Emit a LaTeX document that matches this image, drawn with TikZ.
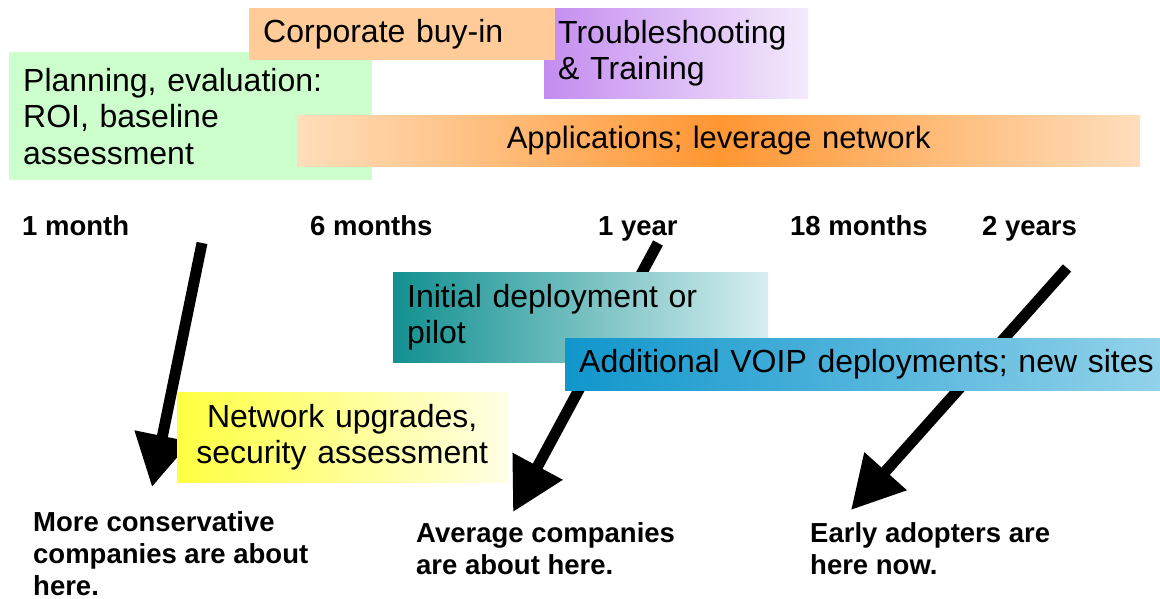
\documentclass[tikz,border=0pt]{standalone}
\usepackage{fontspec}
\setmainfont{Liberation Sans}
\usetikzlibrary{arrows.meta}

\definecolor{planfill}{HTML}{CCFFCC}
\definecolor{buyfill}{HTML}{FFCC99}
\definecolor{troubleL}{RGB}{196,140,240}
\definecolor{troubleR}{RGB}{244,234,252}
\definecolor{appEdge}{RGB}{255,222,188}
\definecolor{appMid}{RGB}{255,150,50}
\definecolor{pilotL}{RGB}{18,144,144}
\definecolor{pilotR}{RGB}{214,238,240}
\definecolor{voipL}{RGB}{16,150,204}
\definecolor{voipR}{RGB}{146,210,234}
\definecolor{netL}{RGB}{255,255,64}
\definecolor{netR}{RGB}{255,255,230}

\tikzset{
  phase/.style={anchor=north west, inner xsep=14pt, inner ysep=0pt,
    font=\fontsize{32}{36.5}\selectfont, align=left},
  tick/.style={anchor=base west, inner sep=0pt,
    font=\fontsize{27.5}{32}\selectfont\bfseries},
  note/.style={anchor=north west, inner sep=0pt, align=left,
    font=\fontsize{27.5}{32}\selectfont\bfseries},
  pointer/.style={line width=11pt, -{Triangle[length=52pt,width=54pt]}},
}

\begin{document}
\begin{tikzpicture}[x=1pt,y=-1pt]
\useasboundingbox (0,0) rectangle (1160,599);
\fill[white] (0,0) rectangle (1160,599);

% arrows run behind the phase boxes
\coordinate (a1s) at (202,243);
\coordinate (a1e) at (152,487);
\coordinate (a2s) at (658,243);
\coordinate (a2e) at (513,512);
\coordinate (a3s) at (1067,268);
\coordinate (a3e) at (851,510);
\draw[pointer] (a1s) -- (a1e);
\draw[pointer] (a2s) -- (a2e);
\draw[pointer] (a3s) -- (a3e);

% phase boxes
\node[phase, fill=planfill, minimum width=363pt, minimum height=128pt, text width=335pt]
  (plan) at (9,52) {Planning, evaluation:\\ROI, baseline\\assessment};
\node[phase, left color=troubleL, right color=troubleR, minimum width=264pt, minimum height=90pt, text width=236pt]
  (train) at (544,8) {Troubleshooting\\\& Training};
\node[phase, fill=buyfill, minimum width=306pt, minimum height=52pt, text width=278pt]
  (buyin) at (249,8) {Corporate buy-in};
\node[phase, left color=appEdge, right color=appEdge, middle color=appMid, minimum width=843pt, minimum height=51pt, text width=815pt, align=center, font=\fontsize{31}{36}\selectfont]
  (apps) at (297,115) {Applications; leverage network};
\node[phase, left color=pilotL, right color=pilotR, minimum width=375pt, minimum height=90pt, text width=347pt]
  (pilot) at (393,272) {Initial deployment or\\pilot};
\node[phase, left color=voipL, right color=voipR, minimum width=595pt, minimum height=52pt, text width=567pt]
  (voip) at (565,338) {\mbox{Additional VOIP deployments; new sites}};
\node[phase, left color=netL, right color=netR, minimum width=330pt, minimum height=90pt, text width=302pt, align=center]
  (net) at (177,392) {Network upgrades,\\security assessment};

% time scale
\node[tick] (t1) at (22,235) {1 month};
\node[tick] (t6) at (310,235) {6 months};
\node[tick] (t12) at (598,235) {1 year};
\node[tick] (t18) at (790,235) {18 months};
\node[tick] (t24) at (982,235) {2 years};

% where companies stand
\node[note] (cons) at (33,511) {More conservative\\companies are about\\here.};
\node[note] (avg) at (416,522) {Average companies\\are about here.};
\node[note] (early) at (810,522) {Early adopters are\\here now.};
\end{tikzpicture}
\end{document}
